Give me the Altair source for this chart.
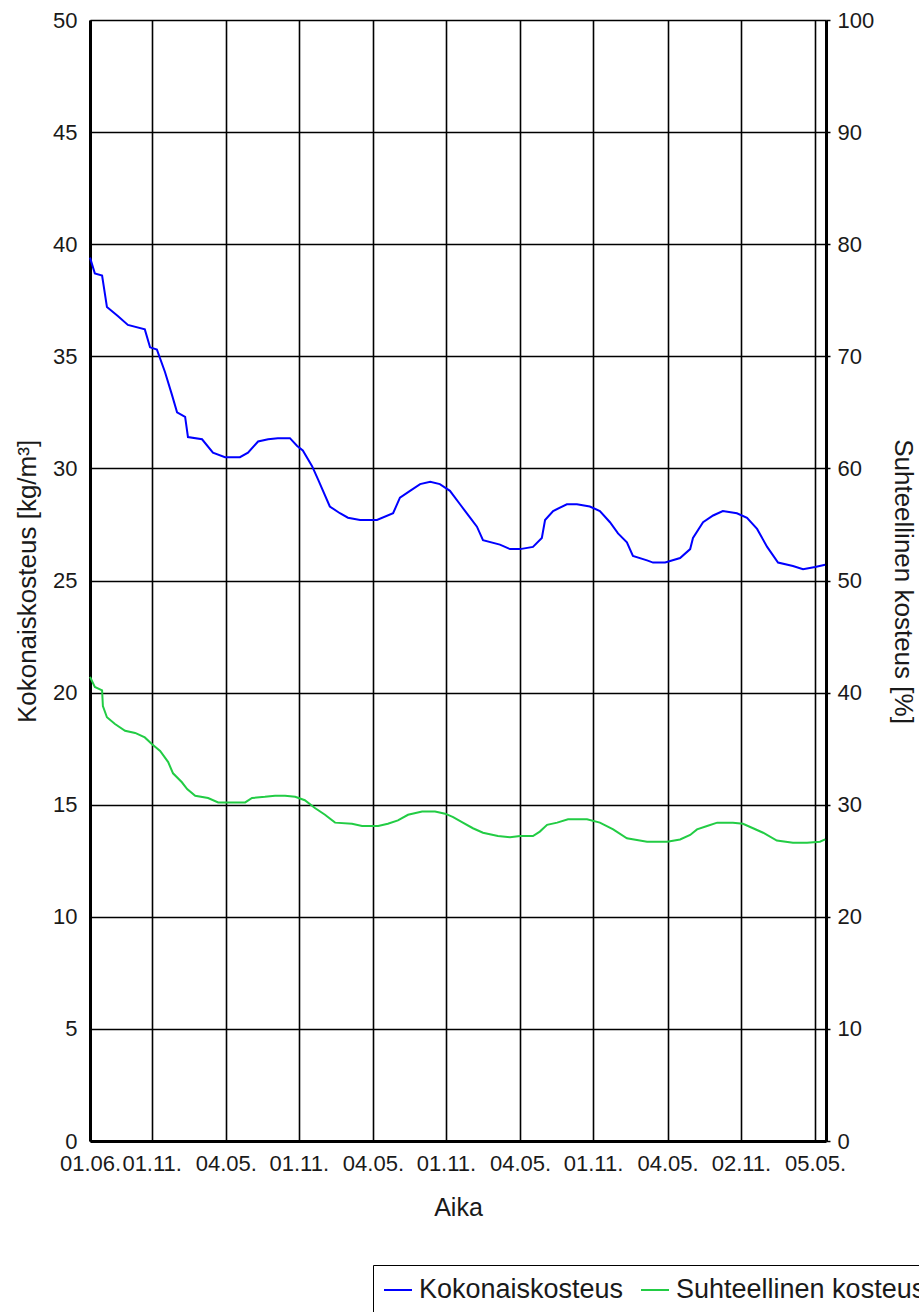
import altair as alt
import pandas as pd

# ---- data ----
START = "2000-06-01"
series_names = ["Kokonaiskosteus", "Suhteellinen kosteus"]

blue_days = [0, 12, 30, 42, 69, 94, 136, 149, 166, 186, 203, 216, 236, 243, 278, 305, 335, 372,
             392, 417, 442, 466, 496, 514, 528, 551, 566, 595, 620, 640, 670, 712, 752, 769, 794,
             819, 844, 868, 893, 918, 943, 960, 975, 1017, 1042, 1067, 1099, 1121, 1129, 1149,
             1183, 1208, 1240, 1265, 1290, 1310, 1332, 1347, 1382, 1397, 1427, 1464, 1489, 1496,
             1521, 1546, 1570, 1605, 1630, 1655, 1680, 1707, 1744, 1769, 1799, 1824]
blue_vals = [39.4, 38.7, 38.6, 37.2, 36.8, 36.4, 36.2, 35.4, 35.3, 34.3, 33.3, 32.5, 32.3, 31.4,
             31.3, 30.7, 30.5, 30.5, 30.7, 31.2, 31.3, 31.35, 31.35, 31.0, 30.8, 30.1, 29.5, 28.3,
             28.0, 27.8, 27.7, 27.7, 28.0, 28.7, 29.0, 29.3, 29.4, 29.3, 29.0, 28.4, 27.8, 27.4,
             26.8, 26.6, 26.4, 26.4, 26.5, 26.9, 27.7, 28.1, 28.4, 28.4, 28.3, 28.1, 27.6, 27.1,
             26.7, 26.1, 25.9, 25.8, 25.8, 26.0, 26.4, 26.9, 27.6, 27.9, 28.1, 28.0, 27.8, 27.3,
             26.5, 25.8, 25.65, 25.5, 25.6, 25.7]

green_days = [0, 12, 30, 32, 42, 62, 87, 112, 136, 154, 174, 194, 206, 228, 241, 261, 293, 318,
              360, 385, 402, 434, 459, 484, 509, 533, 558, 583, 608, 650, 675, 715, 739, 764, 789,
              824, 856, 881, 901, 925, 950, 975, 1012, 1042, 1067, 1099, 1116, 1134, 1159, 1186,
              1233, 1265, 1298, 1332, 1382, 1432, 1464, 1489, 1506, 1531, 1556, 1595, 1620, 1645,
              1670, 1704, 1744, 1779, 1811, 1824]
green_pct = [41.4, 40.5, 40.2, 38.8, 37.8, 37.2, 36.6, 36.4, 36.0, 35.4, 34.8, 33.8, 32.8, 32.0,
             31.4, 30.8, 30.6, 30.2, 30.2, 30.2, 30.6, 30.7, 30.8, 30.8, 30.7, 30.4, 29.7, 29.1,
             28.4, 28.3, 28.1, 28.1, 28.3, 28.6, 29.1, 29.4, 29.4, 29.2, 28.9, 28.4, 27.9, 27.5,
             27.2, 27.1, 27.2, 27.2, 27.6, 28.2, 28.4, 28.7, 28.7, 28.4, 27.8, 27.0, 26.7, 26.7,
             26.9, 27.3, 27.8, 28.1, 28.4, 28.4, 28.3, 27.9, 27.5, 26.8, 26.6, 26.6, 26.7, 26.9]

tick_dates = [(2000, 6, 1), (2000, 11, 1), (2001, 5, 4), (2001, 11, 1), (2002, 5, 4),
              (2002, 11, 1), (2003, 5, 4), (2003, 11, 1), (2004, 5, 4), (2004, 11, 2),
              (2005, 5, 5)]
left_ticks = [0, 5, 10, 15, 20, 25, 30, 35, 40, 45, 50]
right_ticks = [0, 10, 20, 30, 40, 50, 60, 70, 80, 90, 100]
colors = ["#0000ff", "#22cc44"]

# ---- tables ----
t0 = pd.Timestamp(START)
df_blue = pd.DataFrame({
    "t": t0 + pd.to_timedelta(blue_days, unit="D"),
    "v": blue_vals,
    "series": series_names[0],
})
df_green = pd.DataFrame({
    "t": t0 + pd.to_timedelta(green_days, unit="D"),
    "v": green_pct,
    "series": series_names[1],
})

FONT = "Liberation Sans"
TXT = "#1a1a1a"

x_enc = alt.X(
    "t:T",
    title="Aika",
    scale=alt.Scale(domain=[alt.DateTime(year=2000, month=6, date=1),
                            alt.DateTime(year=2005, month=6, date=1)]),
    axis=alt.Axis(
        values=[alt.DateTime(year=y, month=m, date=d) for (y, m, d) in tick_dates],
        format="%d.%m.",
        labelOverlap=False,
        labelFlush=False,
        grid=True,
        gridColor="#000000",
        gridWidth=1.6,
        gridOpacity=1,
        ticks=False,
        domain=True,
        domainColor="#000000",
        domainWidth=3,
        labelPadding=12,
        labelFontSize=22,
        labelColor=TXT,
        titleFontSize=25,
        titleFontWeight="normal",
        titleColor=TXT,
        titleBaseline="middle",
        titleY=66,
    ),
)

color_enc = alt.Color(
    "series:N",
    title=None,
    scale=alt.Scale(domain=series_names, range=colors),
    legend=alt.Legend(
        orient="none",
        legendX=283,
        legendY=1245,
        direction="horizontal",
        strokeColor="#000000",
        fillColor="#ffffff",
        padding=10,
        symbolType="stroke",
        symbolSize=784,
        symbolStrokeWidth=2,
        labelFontSize=27,
        labelColor=TXT,
        labelOffset=6,
        labelLimit=600,
        columnPadding=13,
    ),
)

blue = alt.Chart(df_blue).mark_line(strokeWidth=2).encode(
    x=x_enc,
    y=alt.Y(
        "v:Q",
        title="Kokonaiskosteus [kg/m³]",
        scale=alt.Scale(domain=[0, 50], nice=False, zero=True),
        axis=alt.Axis(
            orient="left",
            values=left_ticks,
            grid=True,
            gridColor="#000000",
            gridWidth=1.6,
            gridOpacity=1,
            ticks=False,
            domain=True,
            domainColor="#000000",
            domainWidth=3,
            labelPadding=13,
            labelFontSize=22,
            labelColor=TXT,
            titleFontSize=26,
            titleFontWeight="normal",
            titleColor=TXT,
            titleBaseline="middle",
            titleX=-63,
            titleY=561,
        ),
    ),
    color=color_enc,
)

green = alt.Chart(df_green).mark_line(strokeWidth=2).encode(
    x=x_enc,
    y=alt.Y(
        "v:Q",
        title="Suhteellinen kosteus [%]",
        scale=alt.Scale(domain=[0, 100], nice=False, zero=True),
        axis=alt.Axis(
            orient="right",
            values=right_ticks,
            grid=False,
            ticks=True,
            tickSize=4,
            tickColor="#000000",
            tickWidth=1.5,
            domain=True,
            domainColor="#000000",
            domainWidth=3,
            labelPadding=7,
            labelFontSize=22,
            labelColor=TXT,
            titleFontSize=26,
            titleFontWeight="normal",
            titleColor=TXT,
            titleBaseline="middle",
            titleX=76,
            titleY=561,
        ),
    ),
    color=color_enc,
)

chart = (
    alt.layer(blue, green)
    .resolve_scale(y="independent")
    .properties(
        width=736,
        height=1121,
        autosize=alt.AutoSizeParams(type="none"),
        padding={"left": 90, "top": 20, "right": 93, "bottom": 171},
        background="#ffffff",
    )
    .configure_view(stroke="#000000", strokeWidth=3)
    .configure(font=FONT)
)

chart.save("out.html", embed_options={"renderer": "svg", "actions": False})
